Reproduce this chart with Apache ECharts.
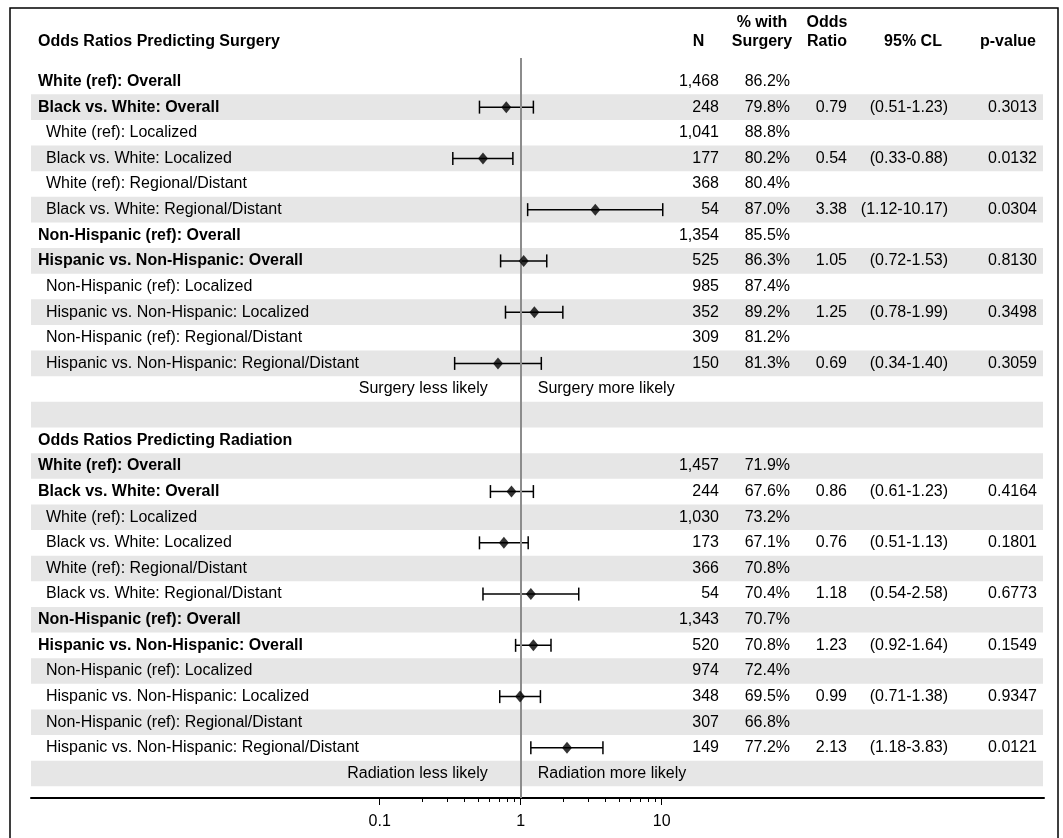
<!DOCTYPE html>
<html>
<head>
<meta charset="utf-8">
<script src="https://cdn.jsdelivr.net/npm/echarts@6/dist/echarts.min.js"></script>
<style>
  html, body { margin: 0; padding: 0; background: #fff; }
  #chart { width: 1063px; height: 838px; }
</style>
</head>
<body>
<div id="chart"></div>
<script>
// surgery model
const surgLabels = [
  'White (ref): Overall', 'Black vs. White: Overall',
  'White (ref): Localized', 'Black vs. White: Localized',
  'White (ref): Regional/Distant', 'Black vs. White: Regional/Distant',
  'Non-Hispanic (ref): Overall', 'Hispanic vs. Non-Hispanic: Overall',
  'Non-Hispanic (ref): Localized', 'Hispanic vs. Non-Hispanic: Localized',
  'Non-Hispanic (ref): Regional/Distant', 'Hispanic vs. Non-Hispanic: Regional/Distant'
];
const surgN = ['1,468', '248', '1,041', '177', '368', '54', '1,354', '525', '985', '352', '309', '150'];
const surgPct = ['86.2%', '79.8%', '88.8%', '80.2%', '80.4%', '87.0%', '85.5%', '86.3%', '87.4%', '89.2%', '81.2%', '81.3%'];
const surgOR = [null, 0.79, null, 0.54, null, 3.38, null, 1.05, null, 1.25, null, 0.69];
const surgLo = [null, 0.51, null, 0.33, null, 1.12, null, 0.72, null, 0.78, null, 0.34];
const surgHi = [null, 1.23, null, 0.88, null, 10.17, null, 1.53, null, 1.99, null, 1.40];
const surgP = [null, '0.3013', null, '0.0132', null, '0.0304', null, '0.8130', null, '0.3498', null, '0.3059'];

// radiation model
const radLabels = surgLabels;
const radN = ['1,457', '244', '1,030', '173', '366', '54', '1,343', '520', '974', '348', '307', '149'];
const radPct = ['71.9%', '67.6%', '73.2%', '67.1%', '70.8%', '70.4%', '70.7%', '70.8%', '72.4%', '69.5%', '66.8%', '77.2%'];
const radOR = [null, 0.86, null, 0.76, null, 1.18, null, 1.23, null, 0.99, null, 2.13];
const radLo = [null, 0.61, null, 0.51, null, 0.54, null, 0.92, null, 0.71, null, 1.18];
const radHi = [null, 1.23, null, 1.13, null, 2.58, null, 1.64, null, 1.38, null, 3.83];
const radP = [null, '0.4164', null, '0.1801', null, '0.6773', null, '0.1549', null, '0.9347', null, '0.0121'];

const sectionTitles = ['Odds Ratios Predicting Surgery', 'Odds Ratios Predicting Radiation'];
const directionLabels = [
  ['Surgery less likely', 'Surgery more likely'],
  ['Radiation less likely', 'Radiation more likely']
];
const majorTicks = [0.1, 1, 10];
const minorTicks = [0.2, 0.3, 0.4, 0.5, 0.6, 0.7, 0.8, 0.9, 2, 3, 4, 5, 6, 7, 8, 9];

const FONT = '"Liberation Sans", Arial, sans-serif';

// build the row table
const rows = [];
function addModel(labels, n, pct, or, lo, hi, p) {
  labels.forEach((lab, i) => {
    rows.push({
      kind: 'data', label: lab, n: n[i], pct: pct[i], or: or[i], lo: lo[i], hi: hi[i], p: p[i],
      bold: lab.indexOf('Overall') >= 0
    });
  });
}
addModel(surgLabels, surgN, surgPct, surgOR, surgLo, surgHi, surgP);
rows.push({kind: 'dir', labels: directionLabels[0]});
rows.push({kind: 'blank'});
rows.push({kind: 'title', label: sectionTitles[1]});
addModel(radLabels, radN, radPct, radOR, radLo, radHi, radP);
rows.push({kind: 'dir', labels: directionLabels[1]});

const bandData = [];
const textData = [];
const barData = [];
const pointData = [];
rows.forEach((r, i) => {
  if (i % 2 === 1) bandData.push([1, i]);
  textData.push([1, i]);
  if (r.or != null) {
    barData.push([r.lo, r.hi, i]);
    pointData.push([r.or, i]);
  }
});

function txt(x, y, s, align, bold) {
  return {
    type: 'text',
    x: x, y: y,
    style: {
      text: s, textAlign: align, textVerticalAlign: 'middle',
      font: (bold ? 'bold ' : '') + '16px ' + FONT, fill: '#000'
    }
  };
}

const chart = echarts.init(document.getElementById('chart'), null, {renderer: 'canvas'});

const xMin = 3.365e-4, xMax = 5143;

chart.setOption({
  animation: false,
  backgroundColor: '#fff',
  grid: {left: 31, right: 19, top: 58, bottom: 40, containLabel: false, outerBoundsMode: 'none'},
  xAxis: [{
    type: 'log', logBase: 10, min: xMin, max: xMax, position: 'bottom',
    axisLine: {show: true, onZero: false, lineStyle: {color: '#000', width: 2}},
    axisTick: {show: true, length: 7, customValues: majorTicks, lineStyle: {color: '#000', width: 1}},
    axisLabel: {
      show: true, customValues: majorTicks, margin: 16, color: '#000', fontSize: 16, fontFamily: FONT,
      formatter: v => String(+(+v).toPrecision(3))
    },
    splitLine: {show: false}, minorTick: {show: false}
  }, {
    type: 'log', logBase: 10, min: xMin, max: xMax, position: 'bottom', gridIndex: 0,
    axisLine: {show: false, onZero: false},
    axisTick: {show: true, length: 4, customValues: minorTicks, lineStyle: {color: '#000', width: 1}},
    axisLabel: {show: false},
    splitLine: {show: false}
  }],
  yAxis: {
    type: 'value', inverse: true, min: -0.917, max: 27.956, show: false
  },
  graphic: [
    {type: 'rect', shape: {x: 10, y: 8, width: 1048, height: 845}, style: {fill: 'none', stroke: '#000', lineWidth: 1.5}, z: 100},
    txt(38, 42, sectionTitles[0], 'left', true),
    txt(698.5, 42, 'N', 'center', true),
    txt(762, 23, '% with', 'center', true),
    txt(762, 42, 'Surgery', 'center', true),
    txt(827, 23, 'Odds', 'center', true),
    txt(827, 42, 'Ratio', 'center', true),
    txt(913, 42, '95% CL', 'center', true),
    txt(1008, 42, 'p-value', 'center', true)
  ],
  series: [{
    type: 'custom', name: 'bands', z: 1, silent: true,
    data: bandData,
    encode: {x: 0, y: 1},
    renderItem: function (params, api) {
      const row = api.value(1);
      const cs = params.coordSys;
      const y0 = api.coord([1, row - 0.5])[1];
      const y1 = api.coord([1, row + 0.5])[1];
      return {
        type: 'rect',
        shape: {x: cs.x, y: y0, width: cs.width - 1, height: y1 - y0},
        style: {fill: '#e6e6e6'}
      };
    }
  }, {
    type: 'custom', name: 'table', z: 3, silent: true,
    data: textData,
    encode: {x: 0, y: 1},
    renderItem: function (params, api) {
      const i = api.value(1);
      const r = rows[i];
      const y = api.coord([1, i])[1];
      const kids = [];
      if (r.kind === 'data') {
        kids.push(txt(r.bold ? 38 : 46, y, r.label, 'left', r.bold));
        kids.push(txt(719, y, r.n, 'right', false));
        kids.push(txt(790, y, r.pct, 'right', false));
        if (r.or != null) {
          kids.push(txt(847, y, r.or.toFixed(2), 'right', false));
          kids.push(txt(948, y, '(' + r.lo.toFixed(2) + '-' + r.hi.toFixed(2) + ')', 'right', false));
          kids.push(txt(1037, y, r.p, 'right', false));
        }
      } else if (r.kind === 'title') {
        kids.push(txt(38, y, r.label, 'left', true));
      } else if (r.kind === 'dir') {
        const x1 = api.coord([1, i])[0];
        kids.push(txt(x1 - 33, y, r.labels[0], 'right', false));
        kids.push(txt(x1 + 17, y, r.labels[1], 'left', false));
      }
      return {type: 'group', children: kids};
    }
  }, {
    type: 'custom', name: 'ci', z: 4, silent: true,
    data: barData,
    encode: {x: [0, 1], y: 2},
    renderItem: function (params, api) {
      const a = api.coord([api.value(0), api.value(2)]);
      const b = api.coord([api.value(1), api.value(2)]);
      const cap = 6.5;
      const st = {stroke: '#000', lineWidth: 1.5, fill: 'none'};
      return {
        type: 'group',
        children: [
          {type: 'line', shape: {x1: a[0], y1: a[1], x2: b[0], y2: b[1]}, style: st},
          {type: 'line', shape: {x1: a[0], y1: a[1] - cap, x2: a[0], y2: a[1] + cap}, style: st},
          {type: 'line', shape: {x1: b[0], y1: b[1] - cap, x2: b[0], y2: b[1] + cap}, style: st}
        ]
      };
    }
  }, {
    type: 'scatter', name: 'or', z: 6, silent: true,
    data: pointData,
    symbol: 'diamond', symbolSize: [10, 12],
    itemStyle: {color: '#000'},
    markLine: {
      silent: true, symbol: ['none', 'none'], z: 5,
      label: {show: false},
      lineStyle: {color: '#8c8c8c', width: 2, type: 'solid'},
      data: [{xAxis: 1}]
    }
  }]
});
</script>
</body>
</html>
